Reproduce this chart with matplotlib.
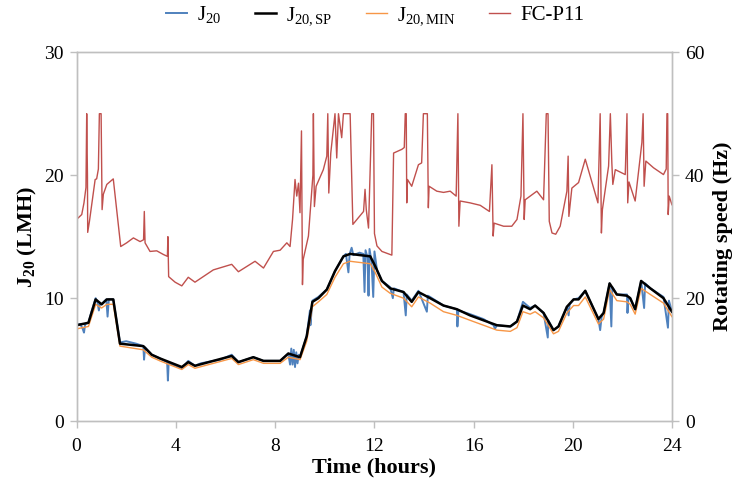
import matplotlib
matplotlib.use("Agg")
import matplotlib.pyplot as plt


# =========================
# DATA
# =========================

# smoothed set-point flux J20,SP (LMH)
sp_time = [0.0, 0.48, 0.77, 1.01, 1.22, 1.48, 1.75, 2.69, 3.03, 3.36,
           4.24, 4.5, 4.77, 5.51, 6.25, 6.52, 7.12, 7.53, 8.2, 8.53,
           9.0, 9.27, 9.5, 9.74, 10.08, 10.41, 10.75, 11.02, 11.83, 12.03,
           12.3, 12.63, 13.17, 13.5, 13.77, 14.24, 14.78, 15.32, 15.85, 16.39,
           16.93, 17.47, 17.74, 17.98, 18.27, 18.47, 18.81, 19.21, 19.41, 19.75,
           20.02, 20.22, 20.49, 21.02, 21.23, 21.47, 21.76, 22.17, 22.3, 22.5,
           22.74, 23.11, 23.64, 23.98]
j20_sp = [7.8, 8.0, 9.9, 9.5, 9.9, 9.9, 6.3, 6.1, 5.4, 5.1,
          4.4, 4.8, 4.5, 4.9, 5.3, 4.8, 5.2, 4.9, 4.9, 5.5,
          5.2, 6.9, 9.7, 10.0, 10.7, 12.2, 13.4, 13.6, 13.4, 12.6,
          11.4, 10.8, 10.5, 9.7, 10.5, 10.0, 9.4, 9.1, 8.6, 8.2,
          7.8, 7.7, 8.1, 9.4, 9.1, 9.4, 8.8, 7.4, 7.7, 9.3,
          9.9, 9.9, 10.6, 8.3, 8.8, 11.2, 10.3, 10.2, 10.0, 9.1,
          11.4, 10.8, 10.0, 8.9]

# minimum flux J20,MIN (LMH), same time stamps
j20_min = [7.5, 7.7, 9.5, 9.2, 9.5, 9.5, 6.1, 5.8, 5.2, 4.9,
           4.2, 4.6, 4.3, 4.7, 5.1, 4.6, 5.0, 4.7, 4.7, 5.2,
           5.0, 6.5, 9.3, 9.7, 10.3, 11.7, 12.8, 13.0, 12.8, 12.1,
           10.9, 10.4, 10.0, 9.3, 10.1, 9.6, 8.9, 8.6, 8.2, 7.8,
           7.4, 7.3, 7.6, 8.9, 8.7, 8.9, 8.4, 7.1, 7.3, 8.8,
           9.4, 9.4, 10.1, 7.9, 8.3, 10.7, 9.8, 9.7, 9.5, 8.7,
           10.8, 10.3, 9.6, 8.5]

# measured flux J20 (LMH)
j20_time = [0.0, 0.15, 0.25, 0.3, 0.35, 0.48, 0.6, 0.77, 0.85, 0.9,
            0.95, 1.01, 1.1, 1.2, 1.25, 1.3, 1.48, 1.75, 2.0, 2.4,
            2.69, 2.72, 2.76, 3.03, 3.36, 3.65, 3.68, 3.71, 4.0, 4.24,
            4.5, 4.77, 5.0, 5.51, 5.8, 6.25, 6.52, 7.12, 7.53, 8.2,
            8.53, 8.6, 8.65, 8.7, 8.75, 8.8, 8.85, 8.9, 8.95, 9.0,
            9.27, 9.4, 9.42, 9.5, 9.74, 10.08, 10.41, 10.75, 10.85, 10.95,
            11.0, 11.08, 11.15, 11.4, 11.55, 11.6, 11.64, 11.72, 11.76, 11.8,
            11.88, 11.95, 12.0, 12.1, 12.3, 12.63, 12.74, 12.78, 13.17, 13.26,
            13.3, 13.5, 13.77, 14.11, 14.15, 14.24, 14.78, 15.32, 15.34, 15.38,
            15.85, 16.39, 16.8, 16.85, 16.93, 17.47, 17.74, 17.98, 18.27, 18.47,
            18.81, 18.98, 19.0, 19.21, 19.41, 19.75, 19.82, 19.86, 20.02, 20.22,
            20.49, 21.02, 21.09, 21.15, 21.23, 21.47, 21.54, 21.58, 21.76, 22.17,
            22.19, 22.23, 22.3, 22.5, 22.74, 22.86, 22.9, 23.11, 23.64, 23.82,
            23.86, 23.98]
j20 = [7.8, 7.9, 7.5, 7.2, 7.9, 8.0, 8.9, 10.0, 9.6, 9.0,
       9.6, 9.5, 9.7, 9.9, 8.5, 9.9, 9.9, 6.4, 6.5, 6.3,
       6.1, 5.0, 6.0, 5.4, 5.1, 4.8, 3.3, 4.7, 4.5, 4.3,
       4.9, 4.5, 4.7, 4.9, 5.0, 5.4, 4.8, 5.2, 4.9, 4.9,
       5.5, 4.6, 5.9, 4.6, 5.8, 4.4, 5.6, 4.7, 5.4, 5.2,
       6.9, 9.0, 7.8, 9.8, 10.1, 10.7, 12.2, 13.4, 13.6, 12.1,
       13.6, 14.1, 13.5, 13.7, 13.6, 10.5, 13.9, 13.3, 10.2, 14.0,
       13.0, 10.1, 13.8, 12.3, 11.4, 10.9, 10.0, 10.8, 10.5, 8.6,
       10.3, 9.8, 10.6, 8.9, 10.2, 10.1, 9.4, 9.1, 7.7, 9.0,
       8.7, 8.3, 7.8, 7.5, 7.8, 7.7, 8.1, 9.7, 9.2, 9.4,
       8.8, 6.8, 8.2, 7.4, 7.7, 9.3, 8.6, 9.5, 9.9, 10.0,
       10.6, 8.3, 7.4, 8.5, 8.8, 11.2, 7.7, 10.9, 10.3, 10.3,
       8.8, 10.1, 10.0, 9.1, 11.4, 9.2, 11.2, 10.8, 10.1, 7.6,
       9.8, 8.9]

# rotating speed of FC-P11 (Hz)
fc_time = [0.0, 0.21, 0.3, 0.38, 0.41, 0.44, 0.45, 0.52, 0.75, 0.81,
           0.88, 0.92, 0.99, 1.03, 1.08, 1.22, 1.48, 1.78, 2.02, 2.29,
           2.56, 2.7, 2.73, 2.76, 2.96, 3.23, 3.5, 3.66, 3.68, 3.71,
           3.97, 4.24, 4.5, 4.77, 5.51, 6.25, 6.52, 7.19, 7.53, 7.93,
           8.2, 8.47, 8.6, 8.7, 8.8, 8.87, 8.94, 9.0, 9.06, 9.1,
           9.13, 9.34, 9.52, 9.54, 9.58, 9.65, 9.94, 10.08, 10.12, 10.16,
           10.24, 10.41, 10.48, 10.55, 10.68, 10.75, 11.02, 11.13, 11.56, 11.62,
           11.67, 11.76, 11.89, 11.96, 12.0, 12.1, 12.3, 12.63, 12.7, 12.77,
           13.1, 13.2, 13.24, 13.28, 13.3, 13.33, 13.5, 13.77, 13.9, 13.97,
           14.13, 14.17, 14.2, 14.51, 14.78, 15.05, 15.29, 15.36, 15.4, 15.45,
           15.85, 16.26, 16.63, 16.73, 16.78, 16.82, 17.2, 17.53, 17.74, 17.9,
           17.98, 18.03, 18.07, 18.27, 18.54, 18.81, 18.92, 18.99, 19.04, 19.15,
           19.3, 19.48, 19.75, 19.8, 19.83, 19.95, 20.22, 20.49, 21.0, 21.09,
           21.14, 21.18, 21.43, 21.5, 21.56, 21.6, 21.7, 22.1, 22.17, 22.2,
           22.25, 22.5, 22.77, 22.82, 22.86, 22.93, 23.24, 23.64, 23.75, 23.78,
           23.81, 23.83, 23.87, 23.98]
fc_hz = [32.8, 33.6, 35.5, 38.0, 50.0, 40.0, 30.7, 32.5, 39.3, 39.4,
         41.0, 50.0, 50.0, 34.4, 36.9, 38.5, 39.4, 28.4, 29.0, 29.8,
         29.2, 29.5, 34.1, 29.0, 27.6, 27.7, 27.1, 26.8, 30.0, 23.5,
         22.6, 22.0, 23.4, 22.6, 24.6, 25.5, 24.3, 26.0, 24.9, 27.6,
         27.8, 29.0, 28.4, 32.8, 39.3, 36.6, 38.7, 33.9, 47.2, 22.2,
         26.3, 30.1, 40.0, 50.0, 34.9, 38.2, 40.9, 43.1, 50.0, 37.1,
         43.6, 50.0, 42.8, 50.0, 46.1, 50.0, 50.0, 32.0, 34.1, 37.7,
         34.4, 31.4, 50.0, 50.0, 30.5, 28.5, 27.6, 27.1, 27.0, 43.6,
         44.2, 44.5, 50.0, 50.0, 35.5, 39.3, 38.2, 41.7, 42.0, 50.0,
         50.0, 34.7, 38.2, 37.4, 37.2, 37.4, 36.6, 50.0, 31.7, 35.8,
         35.5, 35.1, 34.1, 41.7, 30.1, 32.2, 31.7, 31.7, 32.8, 36.6,
         50.0, 32.8, 36.0, 36.6, 37.4, 36.0, 50.0, 50.0, 32.5, 30.6,
         30.4, 31.7, 37.4, 43.1, 33.3, 37.9, 38.8, 42.6, 35.5, 50.0,
         30.6, 34.4, 41.5, 50.0, 42.0, 38.5, 40.9, 40.1, 50.0, 35.5,
         38.9, 35.8, 45.3, 50.0, 38.2, 42.3, 41.2, 40.1, 41.0, 50.0,
         50.0, 33.6, 36.6, 35.2]


# =========================
# STYLE
# =========================

plt.rcParams["font.family"] = ["Liberation Serif", "DejaVu Serif"]
plt.rcParams["mathtext.fontset"] = "custom"
plt.rcParams["mathtext.rm"] = "Liberation Serif"
plt.rcParams["mathtext.bf"] = "Liberation Serif:bold"
plt.rcParams["mathtext.it"] = "Liberation Serif:italic"

grey = "#bfbfbf"
c_blue = "#4f81bd"
c_orange = "#f79646"
c_red = "#c0504d"


# =========================
# PLOT
# =========================

fig = plt.figure(figsize=(7.43, 4.88), dpi=100)
ax = fig.add_axes([0.103, 0.137, 0.802, 0.756])
ax2 = ax.twinx()

l1, = ax.plot(j20_time, j20, color=c_blue, lw=1.4, label=r"J$_{20}$")
l3, = ax.plot(sp_time, j20_min, color=c_orange, lw=1.0, label=r"J$_{20,\mathrm{MIN}}$")
l2, = ax.plot(sp_time, j20_sp, color="black", lw=1.8, label=r"J$_{20,\mathrm{SP}}$")
l4, = ax2.plot(fc_time, fc_hz, color=c_red, lw=1.0, label="FC-P11")

ax.set_zorder(ax2.get_zorder() + 1)
ax.patch.set_visible(False)

ax.set_xlim(0, 24)
ax.set_ylim(0, 30)
ax2.set_ylim(0, 60)
ax.set_xticks(range(0, 25, 4))
ax.set_yticks([0, 10, 20, 30])
ax2.set_yticks([0, 20, 40, 60])

for a in (ax, ax2):
    for s in a.spines.values():
        s.set_color(grey)
        s.set_linewidth(1.0)
    a.tick_params(colors=grey, labelcolor="black", labelsize=14,
                  length=5, width=1.0, direction="out", pad=4)
ax.tick_params(axis="x", pad=7)

ax.set_xlabel("Time (hours)", fontsize=16, fontweight="bold", labelpad=2)
ax.set_ylabel(r"J$_{\mathbf{20}}$ (LMH)", fontsize=16, fontweight="bold", labelpad=4)
ax2.set_ylabel("Rotating speed (Hz)", fontsize=16, fontweight="bold", labelpad=6)

fig.legend(handles=[l1, l2, l3, l4], loc="upper center",
           bbox_to_anchor=(0.505, 1.03), ncol=4, frameon=False,
           fontsize=15, handlelength=1.0, columnspacing=1.6,
           handletextpad=0.5)

fig.savefig("out.png", dpi=100)
